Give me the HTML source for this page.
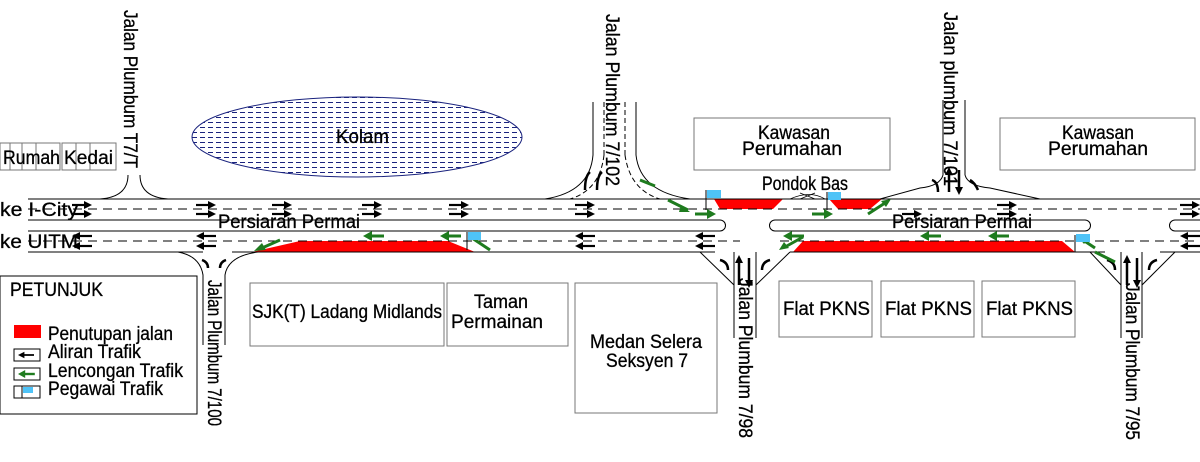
<!DOCTYPE html>
<html><head><meta charset="utf-8"><style>
html,body{margin:0;padding:0;background:#fff}
svg{display:block}
text{font-family:"Liberation Sans",Arial,sans-serif;fill:#000;stroke:#000;stroke-width:0.3}
</style></head><body>
<svg width="1200" height="462" viewBox="0 0 1200 462" xmlns="http://www.w3.org/2000/svg">
<defs>
<pattern id="wav" width="8" height="5" patternUnits="userSpaceOnUse">
<rect width="8" height="5" fill="#fff"/><line x1="0" y1="2.5" x2="5" y2="2.5" stroke="#1a237e" stroke-width="1"/>
</pattern>
<g id="ar"><line x1="0" y1="0" x2="14" y2="0" stroke="#000" stroke-width="2.2"/><path d="M20,0 L12,-4 L12,4Z" fill="#000"/></g>
<g id="al"><line x1="6" y1="0" x2="20" y2="0" stroke="#000" stroke-width="2.2"/><path d="M0,0 L8,-4 L8,4Z" fill="#000"/></g>
<g id="gr"><line x1="0" y1="0" x2="14" y2="0" stroke="#1e7b1e" stroke-width="3"/><path d="M21,0 L12,-5 L12,5Z" fill="#1e7b1e"/></g>
<g id="gl"><line x1="7" y1="0" x2="21" y2="0" stroke="#1e7b1e" stroke-width="3"/><path d="M0,0 L9,-5 L9,5Z" fill="#1e7b1e"/></g>
</defs>

<g fill="none" stroke="#777" stroke-width="1">
<rect x="0" y="143" width="60" height="27"/><line x1="10" y1="143" x2="10" y2="170"/><line x1="22" y1="143" x2="22" y2="170"/><line x1="36" y1="143" x2="36" y2="170"/>
<rect x="62" y="143" width="54" height="27"/><line x1="76" y1="143" x2="76" y2="170"/><line x1="90" y1="143" x2="90" y2="170"/>
<rect x="694" y="118" width="196" height="52"/>
<rect x="1000" y="118" width="195" height="52"/>
<rect x="250" y="283" width="194" height="63"/>
<rect x="447" y="283" width="121" height="63"/>
<rect x="575" y="283" width="142" height="130"/>
<rect x="779" y="281" width="93" height="56"/>
<rect x="881" y="281" width="93" height="56"/>
<rect x="982" y="281" width="93" height="56"/>
</g>
<rect x="0" y="276" width="197" height="138" fill="none" stroke="#000" stroke-width="1"/>
<ellipse cx="357" cy="137" rx="165" ry="40" fill="url(#wav)" stroke="#1a237e" stroke-width="1"/>

<g fill="#f00">
<path d="M252,252 L300,241 L448,241 L475,252Z"/>
<path d="M714,199 L783,199 L773,209 L720,209Z"/>
<path d="M829,199 L882,199 L870,209 L838,209Z"/>
<path d="M793,252 L803,241 L1062,241 L1075,252Z"/>
</g>

<g stroke="#000" stroke-width="1" fill="none">
<line x1="28" y1="199" x2="1200" y2="199"/>
<line x1="28" y1="220" x2="720" y2="220"/>
<line x1="28" y1="231" x2="720" y2="231"/>
<path d="M720,220 A5.5,5.5 0 0 1 720,231"/>
<path d="M775,220 L1085,220 A5.5,5.5 0 0 1 1085,231 L775,231 A5.5,5.5 0 0 1 775,220"/>
<path d="M1200,220 L1175,220 A5.5,5.5 0 0 0 1175,231 L1200,231"/>
<line x1="28" y1="252" x2="203" y2="252"/>
<line x1="232" y1="252" x2="715" y2="252"/>
<line x1="790" y1="252" x2="1105" y2="252"/>
<line x1="1160" y1="252" x2="1200" y2="252"/>
<line x1="28" y1="209" x2="1200" y2="209" stroke-dasharray="9,6"/>
<line x1="28" y1="241" x2="740" y2="241" stroke-dasharray="9,6"/>
<line x1="780" y1="241" x2="1200" y2="241" stroke-dasharray="9,6"/>
<path d="M128,175 Q128,197 100,199"/>
<path d="M140,175 Q140,197 168,199"/>
<line x1="593" y1="102" x2="593" y2="155"/><line x1="636" y1="102" x2="636" y2="155"/>
<line x1="604" y1="102" x2="604" y2="155" stroke-dasharray="5,3"/><line x1="625" y1="102" x2="625" y2="155" stroke-dasharray="5,3"/>
<path d="M593,155 Q590,192 545,199"/><path d="M604,155 Q600,190 570,199" stroke-dasharray="5,3"/>
<path d="M636,155 Q640,192 690,199"/><path d="M625,155 Q630,190 660,199" stroke-dasharray="5,3"/>
<line x1="943" y1="100" x2="943" y2="175"/><line x1="965" y1="100" x2="965" y2="175"/>
<path d="M943,175 Q940,186 920,188 L880,199"/><path d="M965,175 Q968,186 990,188 L1040,199"/>
<path d="M178,252 Q200,256 203,275 L203,345"/><path d="M258,252 Q228,256 225,275 L225,345"/>
<line x1="734" y1="252" x2="734" y2="338"/><line x1="756" y1="252" x2="756" y2="338"/>
<path d="M700,252 L734,285"/><path d="M790,252 L756,285"/>
<line x1="1121" y1="252" x2="1121" y2="338"/><line x1="1142" y1="252" x2="1142" y2="338"/>
<path d="M1090,252 L1121,285"/><path d="M1175,252 L1142,285"/>
</g>

<g>
<use href="#ar" x="72" y="205"/><use href="#ar" x="72" y="214"/>
<use href="#ar" x="196" y="205"/><use href="#ar" x="196" y="214"/>
<use href="#ar" x="272" y="205"/><use href="#ar" x="272" y="214"/>
<use href="#ar" x="362" y="205"/><use href="#ar" x="362" y="214"/>
<use href="#ar" x="449" y="205"/><use href="#ar" x="449" y="214"/>
<use href="#ar" x="575" y="205"/><use href="#ar" x="575" y="214"/>
<use href="#ar" x="997" y="205"/><use href="#ar" x="997" y="214"/>
<use href="#ar" x="1180" y="205"/><use href="#ar" x="1180" y="214"/>
<use href="#ar" x="902" y="214"/>
<use href="#al" x="72" y="236"/><use href="#al" x="72" y="246"/>
<use href="#al" x="196" y="236"/><use href="#al" x="196" y="246"/>
<use href="#al" x="575" y="236"/><use href="#al" x="575" y="246"/>
<use href="#al" x="695" y="236"/><use href="#al" x="695" y="246"/>
<use href="#al" x="1180" y="236"/><use href="#al" x="1180" y="246"/>
</g>
<g stroke="#000" stroke-width="2.5" fill="none">
<line x1="739" y1="258" x2="739" y2="285"/><line x1="749" y1="258" x2="749" y2="285"/>
<line x1="1127" y1="258" x2="1127" y2="285"/><line x1="1137" y1="258" x2="1137" y2="285"/>
<line x1="949" y1="170" x2="949" y2="192"/><line x1="959" y1="170" x2="959" y2="192"/>
<path d="M585,190 Q585,176 590,172"/><path d="M597,190 Q597,176 602,172"/>
<path d="M938,192 Q938,182 932,180"/><path d="M970,180 Q975,183 978,190"/>
<path d="M728,270 Q728,262 720,260"/><path d="M762,270 Q762,262 770,260"/>
<path d="M1115,270 Q1115,262 1107,260"/><path d="M1149,270 Q1149,262 1157,260"/>
<path d="M208,268 Q208,262 202,260"/><path d="M220,268 Q220,262 226,260"/>
</g>
<g fill="#000">
<path d="M739,255 L735,263 L743,263Z"/><path d="M749,288 L745,280 L753,280Z"/>
<path d="M1127,255 L1123,263 L1131,263Z"/><path d="M1137,288 L1133,280 L1141,280Z"/>
<path d="M949,167 L945,175 L953,175Z"/><path d="M959,195 L955,187 L963,187Z"/>
</g>

<g>
<use href="#gl" x="363" y="236"/><use href="#gl" x="440" y="236"/>
<use href="#gl" x="783" y="236"/><use href="#gl" x="920" y="236"/><use href="#gl" x="988" y="236"/>
<use href="#gr" x="695" y="214"/><use href="#gr" x="812" y="214"/>
</g>
<g stroke="#1e7b1e" stroke-width="3" fill="none">
<line x1="280" y1="240" x2="262" y2="248"/>
<line x1="490" y1="250" x2="472" y2="238"/>
<line x1="668" y1="200" x2="688" y2="210"/>
<line x1="640" y1="180" x2="655" y2="186"/>
<line x1="868" y1="214" x2="885" y2="203"/>
<line x1="803" y1="237" x2="785" y2="247"/>
<line x1="1115" y1="262" x2="1095" y2="252"/>
<line x1="1095" y1="248" x2="1083" y2="240"/>
</g>
<g fill="#1e7b1e">
<path d="M254,251 L262,243 L266,250Z"/>
<path d="M690,212 L681,205 L679,212Z"/>
<path d="M891,199 L881,201 L886,207Z"/>
<path d="M779,250 L784,242 L789,248Z"/>
<path d="M1078,237 L1089,238 L1084,244Z"/>
</g>

<g>
<line x1="706" y1="190" x2="706" y2="210" stroke="#000"/><rect x="707" y="190" width="14" height="8" fill="#4fc3f7"/>
<line x1="827" y1="192" x2="827" y2="210" stroke="#000"/><rect x="828" y="192" width="13" height="8" fill="#4fc3f7"/>
<line x1="467" y1="232" x2="467" y2="250" stroke="#000"/><rect x="468" y="232" width="13" height="8" fill="#4fc3f7"/>
<line x1="1075" y1="235" x2="1075" y2="252" stroke="#000"/><rect x="1076" y="234" width="14" height="8" fill="#4fc3f7"/>
</g>
<path d="M790,199 Q810,190 825,199" fill="none" stroke="#000" stroke-width="0.8"/>
<path d="M800,193 L815,199 M800,199 L815,193" stroke="#000" stroke-width="0.8"/>

<g font-size="19">
<text x="3" y="164" textLength="57" lengthAdjust="spacingAndGlyphs">Rumah</text>
<text x="64" y="164" textLength="49" lengthAdjust="spacingAndGlyphs">Kedai</text>
<text x="336" y="143" textLength="53" lengthAdjust="spacingAndGlyphs">Kolam</text>
<text x="758" y="139" textLength="72" lengthAdjust="spacingAndGlyphs">Kawasan</text>
<text x="742" y="155" textLength="100" lengthAdjust="spacingAndGlyphs">Perumahan</text>
<text x="1062" y="139" textLength="72" lengthAdjust="spacingAndGlyphs">Kawasan</text>
<text x="1048" y="155" textLength="100" lengthAdjust="spacingAndGlyphs">Perumahan</text>
<text x="762" y="190" textLength="86" lengthAdjust="spacingAndGlyphs">Pondok Bas</text>
<text x="0" y="216" textLength="78" lengthAdjust="spacingAndGlyphs">ke I-City</text>
<text x="0" y="248" textLength="78" lengthAdjust="spacingAndGlyphs">ke UITM</text>
<text x="218" y="228" textLength="142" lengthAdjust="spacingAndGlyphs">Persiaran Permai</text>
<text x="892" y="228" textLength="140" lengthAdjust="spacingAndGlyphs">Persiaran Permai</text>
<text x="252" y="318" textLength="190" lengthAdjust="spacingAndGlyphs">SJK(T) Ladang Midlands</text>
<text x="474" y="308" textLength="54" lengthAdjust="spacingAndGlyphs">Taman</text>
<text x="451" y="328" textLength="92" lengthAdjust="spacingAndGlyphs">Permainan</text>
<text x="590" y="348" textLength="112" lengthAdjust="spacingAndGlyphs">Medan Selera</text>
<text x="606" y="367" textLength="82" lengthAdjust="spacingAndGlyphs">Seksyen 7</text>
<text x="783" y="315" textLength="87" lengthAdjust="spacingAndGlyphs">Flat PKNS</text>
<text x="885" y="315" textLength="87" lengthAdjust="spacingAndGlyphs">Flat PKNS</text>
<text x="986" y="315" textLength="87" lengthAdjust="spacingAndGlyphs">Flat PKNS</text>
<text x="10" y="296" textLength="93" lengthAdjust="spacingAndGlyphs">PETUNJUK</text>
<text x="48" y="340" textLength="125" lengthAdjust="spacingAndGlyphs">Penutupan jalan</text>
<text x="48" y="358" textLength="93" lengthAdjust="spacingAndGlyphs">Aliran Trafik</text>
<text x="48" y="377" textLength="135" lengthAdjust="spacingAndGlyphs">Lencongan Trafik</text>
<text x="48" y="395" textLength="115" lengthAdjust="spacingAndGlyphs">Pegawai Trafik</text>
<g transform="translate(124,10) rotate(90)"><text textLength="158" lengthAdjust="spacingAndGlyphs">Jalan Plumbum T7/T</text></g>
<g transform="translate(606,14) rotate(90)"><text textLength="172" lengthAdjust="spacingAndGlyphs">Jalan Plumbum 7/102</text></g>
<g transform="translate(944,12) rotate(90)"><text textLength="174" lengthAdjust="spacingAndGlyphs">Jalan plumbum 7/101</text></g>
<g transform="translate(208,280) rotate(90)"><text textLength="146" lengthAdjust="spacingAndGlyphs">Jalan Plumbum 7/100</text></g>
<g transform="translate(739,278) rotate(90)"><text textLength="160" lengthAdjust="spacingAndGlyphs">Jalan Plumbum 7/98</text></g>
<g transform="translate(1126,283) rotate(90)"><text textLength="157" lengthAdjust="spacingAndGlyphs">Jalan Plumbum 7/95</text></g>
</g>
<rect x="14" y="325" width="27" height="13" fill="#f00"/>
<rect x="14" y="349" width="26" height="12" fill="#fff" stroke="#000"/><g transform="translate(18,355) scale(0.8)"><use href="#al"/></g>
<rect x="14" y="368" width="26" height="12" fill="#fff" stroke="#000"/><g transform="translate(18,374) scale(0.8)"><use href="#gl"/></g>
<rect x="14" y="386" width="26" height="12" fill="#fff" stroke="#000"/><line x1="22" y1="386" x2="22" y2="398" stroke="#000"/><rect x="23" y="387" width="10" height="6" fill="#4fc3f7"/>
</svg>
</body></html>
